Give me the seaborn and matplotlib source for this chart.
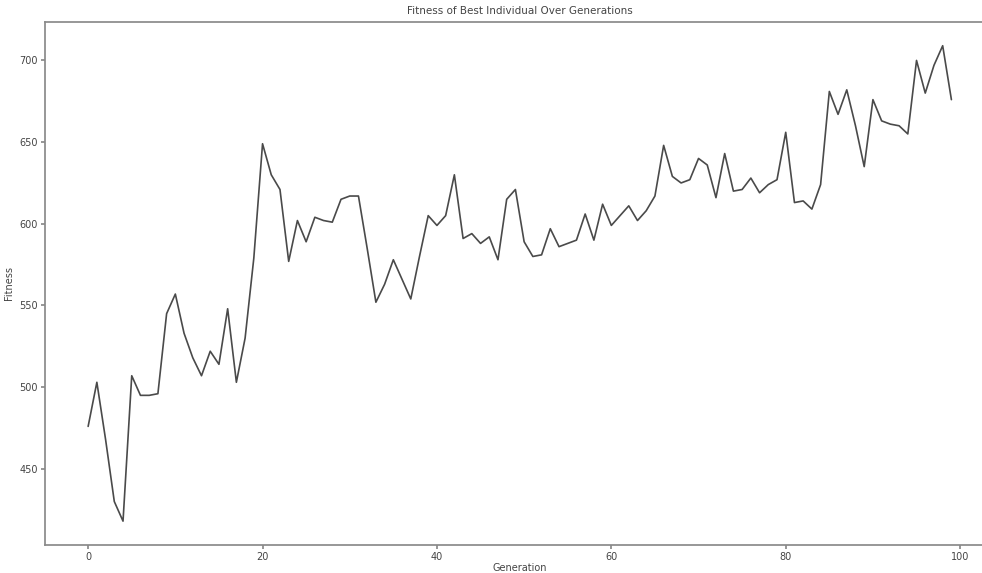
import matplotlib
import pandas as pd
import matplotlib.pyplot as plt
import seaborn as sns

matplotlib.use('Agg')  # Use a non-interactive backend

# Fitness of the best individual per generation
generations = list(range(100))
fitness = [
    476, 503, 468, 430, 418, 507, 495, 495, 496, 545,
    557, 533, 518, 507, 522, 514, 548, 503, 530, 579,
    649, 630, 621, 577, 602, 589, 604, 602, 601, 615,
    617, 617, 585, 552, 563, 578, 566, 554, 580, 605,
    599, 605, 630, 591, 594, 588, 592, 578, 615, 621,
    589, 580, 581, 597, 586, 588, 590, 606, 590, 612,
    599, 605, 611, 602, 608, 617, 648, 629, 625, 627,
    640, 636, 616, 643, 620, 621, 628, 619, 624, 627,
    656, 613, 614, 609, 624, 681, 667, 682, 660, 635,
    676, 663, 661, 660, 655, 700, 680, 697, 709, 676,
]
x_ticks = [0, 20, 40, 60, 80, 100]
y_ticks = [450, 500, 550, 600, 650, 700]

df = pd.DataFrame({'Generation': generations, 'Fitness': fitness})

# Plain white style with grey frame
sns.set_theme(style="ticks", rc={
    'axes.edgecolor': '#8a8a8a',
    'xtick.color': '#8a8a8a',
    'ytick.color': '#8a8a8a',
    'xtick.labelcolor': '#444444',
    'ytick.labelcolor': '#444444',
    'axes.labelcolor': '#444444',
    'text.color': '#444444',
})
plt.rcParams['font.family'] = ['DejaVu Sans']

fig = plt.figure(figsize=(9.82, 5.73), dpi=100)
# the reference is cropped on the right, so the axes run past the edge
ax = fig.add_axes([0.0458, 0.049, 0.967, 0.9127])

sns.lineplot(data=df, x='Generation', y='Fitness', ax=ax,
             color='#4a4a4a', linewidth=1.2)

# right frame lies outside the cropped picture
ax.spines['right'].set_visible(False)

ax.set_xticks(x_ticks)
ax.set_yticks(y_ticks)
ax.tick_params(labelsize=7, length=3, direction='out', pad=2)
ax.set_xlabel('Generation', fontsize=7, labelpad=1)
ax.set_ylabel('Fitness', fontsize=7, labelpad=4)
ax.set_title('Fitness of Best Individual Over Generations', fontsize=7.5, pad=6)

plt.savefig('out.png', dpi=100)
plt.close()
